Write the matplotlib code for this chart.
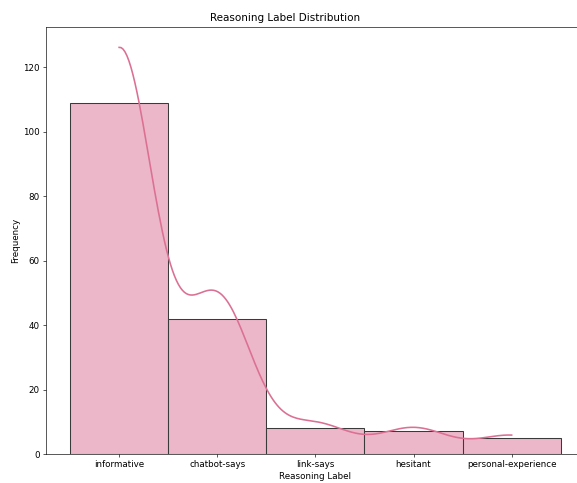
import matplotlib
matplotlib.use("Agg")
import matplotlib.pyplot as plt
import pandas as pd
import seaborn as sns

labels = ["informative", "chatbot-says", "link-says", "hesitant", "personal-experience"]
counts = [109, 42, 8, 7, 5]

# one row per labelled example
df = pd.DataFrame({"reasoning_label": [lab for lab, n in zip(labels, counts) for _ in range(n)]})

plt.rcParams.update({"font.size": 11, "axes.titlesize": 13, "axes.labelsize": 11,
                     "xtick.labelsize": 11, "ytick.labelsize": 11})

fig = plt.figure(figsize=(10, 483 / 57.7), dpi=57.7)
ax = fig.add_axes([0.0789, 0.060, 0.9354, 0.884])

sns.histplot(data=df, x="reasoning_label", kde=True, color="palevioletred", ax=ax,
             linewidth=1.3, edgecolor="#3a3a3a", line_kws={"linewidth": 2})

ax.set_title("Reasoning Label Distribution", x=0.4438, pad=8)
ax.set_xlabel("Reasoning Label", labelpad=4)
ax.set_ylabel("Frequency")

fig.savefig("out.png", dpi=57.7)
